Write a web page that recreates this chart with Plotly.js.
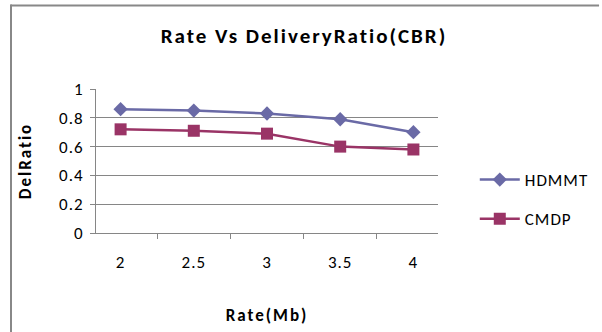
<!DOCTYPE html>
<html>
<head>
<meta charset="utf-8">
<script src="https://cdn.plot.ly/plotly-3.0.1.min.js"></script>
<style>
  html, body { margin: 0; padding: 0; background: #ffffff; }
  #chart { width: 602px; height: 332px; }
  /* loose letter spacing, as in the exported chart text */
  #chart .gtitle { letter-spacing: 2px; }
  #chart .xtitle, #chart .ytitle { letter-spacing: 2px; }
  #chart .xtick text, #chart .ytick text { letter-spacing: 1px; }
  #chart .legendtext { letter-spacing: 1px; }
</style>
</head>
<body>
<div id="chart"></div>
<script>
// Rate categories (Mb) and delivery ratio per protocol
const rates = ['2', '2.5', '3', '3.5', '4'];
const hdmmt = [0.86, 0.85, 0.83, 0.79, 0.70];
const cmdp = [0.72, 0.71, 0.69, 0.60, 0.58];
const yTicks = [0, 0.2, 0.4, 0.6, 0.8, 1];
const yTickText = ['0', '0.2', '0.4', '0.6', '0.8', '1'];

const W = 602, H = 332;
const M = { l: 96, r: 162, t: 89, b: 99 };
const pw = W - M.l - M.r, ph = H - M.t - M.b;
// pixel -> paper helpers for the frame lines and legend anchor
const px = x => (x - M.l) / pw;
const py = y => (H - M.b - y) / ph;

const font = 'Calibri, Carlito, "Liberation Sans", Arial, sans-serif';

const traces = [
  {
    x: rates, y: hdmmt, name: 'HDMMT', type: 'scatter', mode: 'lines+markers',
    legendgroup: 'a',
    line: { color: '#6a6aa6', width: 2.5 },
    marker: { symbol: 'diamond', size: 11, color: '#6a6aa6' }
  },
  {
    x: rates, y: cmdp, name: 'CMDP', type: 'scatter', mode: 'lines+markers',
    legendgroup: 'b',
    line: { color: '#9a3466', width: 2.5 },
    marker: { symbol: 'square', size: 12, color: '#9a3466' }
  }
];

const layout = {
  width: W, height: H,
  margin: M,
  paper_bgcolor: '#ffffff',
  plot_bgcolor: '#ffffff',
  font: { family: font, size: 17, color: '#000000' },
  title: {
    text: '<b>Rate Vs DeliveryRatio(CBR)</b>',
    font: { family: font, size: 21, color: '#000000' },
    x: 304 / W, xanchor: 'center',
    y: 1 - 36 / H, yanchor: 'middle'
  },
  xaxis: {
    type: 'category',
    categoryorder: 'array', categoryarray: rates,
    showgrid: false,
    showline: true, linecolor: '#868686', linewidth: 1,
    ticks: 'outside', tickson: 'boundaries', ticklen: 5, tickcolor: '#868686',
    ticklabelstandoff: 14,
    tickfont: { family: font, size: 17, color: '#000000' },
    title: { text: '<b>Rate(Mb)</b>', font: { family: font, size: 17 }, standoff: 36 },
    automargin: false,
    zeroline: false, fixedrange: true
  },
  yaxis: {
    range: [0, 1.0001],
    tickvals: yTicks, ticktext: yTickText,
    showgrid: true, gridcolor: '#868686', gridwidth: 1,
    showline: true, linecolor: '#868686', linewidth: 1,
    ticks: 'outside', ticklen: 5, tickcolor: '#868686',
    ticklabelstandoff: 3,
    tickfont: { family: font, size: 17, color: '#000000' },
    title: { text: '<b>DelRatio</b>', font: { family: font, size: 17 }, standoff: 26 },
    automargin: false,
    zeroline: false, fixedrange: true
  },
  showlegend: true,
  legend: {
    x: px(477), xanchor: 'left',
    y: py(162), yanchor: 'top',
    font: { family: font, size: 17, color: '#000000' },
    traceorder: 'grouped',
    tracegroupgap: 14,
    itemwidth: 40,
    bgcolor: 'rgba(0,0,0,0)', borderwidth: 0
  },
  shapes: [
    { type: 'line', xref: 'paper', yref: 'paper',
      x0: px(10), x1: px(602), y0: py(5.5), y1: py(5.5),
      line: { color: '#888888', width: 2 } },
    { type: 'line', xref: 'paper', yref: 'paper',
      x0: px(10.5), x1: px(10.5), y0: py(4.5), y1: py(332),
      line: { color: '#888888', width: 2 } }
  ]
};

Plotly.newPlot('chart', traces, layout, { displayModeBar: false, staticPlot: true });
</script>
</body>
</html>
